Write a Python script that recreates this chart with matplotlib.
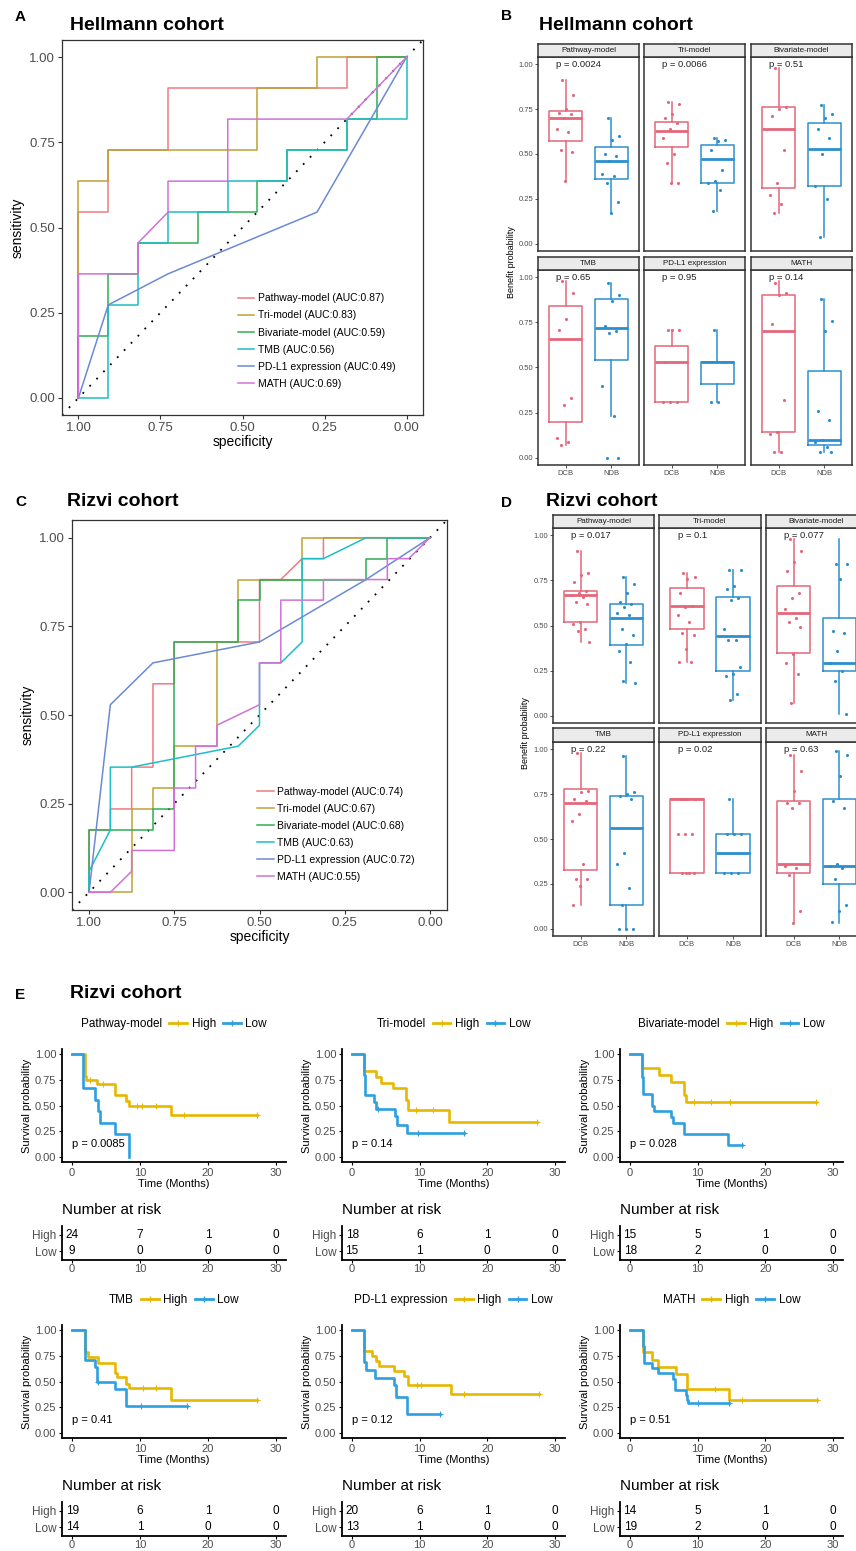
import numpy as np
import matplotlib
matplotlib.use('Agg')
import matplotlib.pyplot as plt
from matplotlib.lines import Line2D

plt.rcParams['font.family'] = ['Liberation Sans', 'DejaVu Sans']

W, H = 856, 1551

# ---------------- data ----------------
modelos = ['Pathway-model', 'Tri-model', 'Bivariate-model', 'TMB', 'PD-L1 expression', 'MATH']

# ROC, Hellmann cohort
hell_auc = [0.87, 0.83, 0.59, 0.56, 0.49, 0.69]
hell_spec = [
    [1, 1, 0.909, 0.909, 0.727, 0.727, 0.182, 0.182, 0],
    [1, 1, 0.909, 0.909, 0.455, 0.455, 0.273, 0.273, 0],
    [1, 1, 0.909, 0.909, 0.818, 0.818, 0.636, 0.636, 0.455, 0.455, 0.364, 0.364, 0.182, 0.182, 0.091, 0.091, 0],
    [1, 0.909, 0.909, 0.818, 0.818, 0.727, 0.727, 0.545, 0.545, 0.364, 0.364, 0.182, 0.182, 0, 0],
    [1, 0.909, 0.727, 0.273, 0],
    [1, 1, 0.818, 0.818, 0.727, 0.727, 0.545, 0.545, 0.182, 0],
]
hell_sens = [
    [0, 0.545, 0.545, 0.727, 0.727, 0.909, 0.909, 1, 1],
    [0, 0.636, 0.636, 0.727, 0.727, 0.909, 0.909, 1, 1],
    [0, 0.182, 0.182, 0.364, 0.364, 0.455, 0.455, 0.545, 0.545, 0.636, 0.636, 0.727, 0.727, 0.818, 0.818, 1, 1],
    [0, 0, 0.273, 0.273, 0.455, 0.455, 0.545, 0.545, 0.636, 0.636, 0.727, 0.727, 0.818, 0.818, 1],
    [0, 0.273, 0.364, 0.545, 1],
    [0, 0.364, 0.364, 0.455, 0.545, 0.636, 0.636, 0.818, 0.818, 1],
]

# ROC, Rizvi cohort
rizvi_auc = [0.74, 0.67, 0.68, 0.63, 0.72, 0.55]
rizvi_spec = [
    [1, 1, 0.9375, 0.9375, 0.875, 0.875, 0.8125, 0.8125, 0.75, 0.75, 0.5, 0.5, 0.4375, 0.375, 0.3125, 0.3125, 0],
    [1, 0.875, 0.875, 0.8125, 0.8125, 0.75, 0.75, 0.625, 0.625, 0.5625, 0.5625, 0.375, 0.375, 0],
    [1, 1, 0.8125, 0.8125, 0.75, 0.75, 0.5625, 0.5625, 0.5, 0.5, 0.1875, 0.1875, 0.125, 0.125, 0],
    [1, 1, 0.9375, 0.9375, 0.875, 0.5625, 0.5, 0.5, 0.4375, 0.375, 0.375, 0.3125, 0.1875, 0],
    [1, 0.9375, 0.8125, 0.5, 0.1875, 0],
    [1, 0.9375, 0.875, 0.875, 0.75, 0.75, 0.6875, 0.6875, 0.625, 0.625, 0.5, 0.5, 0.4375, 0.4375,
     0.3125, 0.3125, 0.125, 0.125, 0.0625, 0],
]
rizvi_sens = [
    [0, 0.176, 0.176, 0.235, 0.235, 0.353, 0.353, 0.588, 0.588, 0.706, 0.706, 0.882, 0.882, 0.941, 0.941, 1, 1],
    [0, 0, 0.235, 0.235, 0.294, 0.294, 0.412, 0.412, 0.706, 0.706, 0.882, 0.882, 1, 1],
    [0, 0.176, 0.176, 0.235, 0.235, 0.706, 0.706, 0.824, 0.824, 0.882, 0.882, 0.941, 0.941, 1, 1],
    [0, 0.059, 0.176, 0.353, 0.353, 0.412, 0.471, 0.647, 0.647, 0.706, 0.941, 0.941, 1, 1],
    [0, 0.529, 0.647, 0.706, 0.882, 1],
    [0, 0, 0.059, 0.118, 0.118, 0.294, 0.294, 0.412, 0.412, 0.471, 0.529, 0.647, 0.647, 0.824,
     0.824, 0.882, 0.882, 0.941, 0.941, 1],
]

# boxplots: [whisker low, q1, median, q3, whisker high]
hell_box_dcb = [[0.35, 0.57, 0.70, 0.74, 0.91], [0.34, 0.54, 0.63, 0.68, 0.79], [0.17, 0.31, 0.64, 0.76, 0.98],
                [0.07, 0.20, 0.66, 0.84, 0.98], [0.31, 0.31, 0.53, 0.62, 0.71], [0.03, 0.14, 0.70, 0.90, 0.98]]
hell_box_ndb = [[0.17, 0.36, 0.46, 0.54, 0.70], [0.18, 0.34, 0.47, 0.55, 0.59], [0.04, 0.32, 0.53, 0.67, 0.77],
                [0.23, 0.54, 0.72, 0.88, 0.97], [0.31, 0.41, 0.53, 0.53, 0.71], [0.03, 0.07, 0.10, 0.48, 0.88]]
hell_pts_dcb = [
    [0.91, 0.83, 0.75, 0.73, 0.72, 0.70, 0.64, 0.62, 0.52, 0.51, 0.35],
    [0.79, 0.78, 0.72, 0.70, 0.67, 0.64, 0.59, 0.50, 0.45, 0.34, 0.34],
    [0.98, 0.76, 0.75, 0.71, 0.52, 0.34, 0.27, 0.22, 0.17],
    [0.98, 0.91, 0.77, 0.71, 0.33, 0.29, 0.11, 0.09, 0.07],
    [0.71, 0.71, 0.71, 0.53, 0.31, 0.31, 0.31],
    [0.97, 0.91, 0.90, 0.74, 0.32, 0.14, 0.13, 0.03, 0.03],
]
hell_pts_ndb = [
    [0.70, 0.60, 0.58, 0.50, 0.49, 0.46, 0.39, 0.38, 0.34, 0.23, 0.17],
    [0.59, 0.58, 0.57, 0.52, 0.41, 0.35, 0.34, 0.30, 0.18],
    [0.77, 0.72, 0.70, 0.64, 0.59, 0.50, 0.32, 0.25, 0.04],
    [0.97, 0.90, 0.87, 0.73, 0.70, 0.69, 0.40, 0.23, 0.0, 0.0],
    [0.71, 0.53, 0.31, 0.31],
    [0.88, 0.76, 0.70, 0.26, 0.21, 0.10, 0.09, 0.06, 0.03, 0.03],
]
hell_p = ['0.0024', '0.0066', '0.51', '0.65', '0.95', '0.14']

rizvi_box_dcb = [[0.41, 0.52, 0.67, 0.69, 0.91], [0.30, 0.48, 0.61, 0.71, 0.79], [0.07, 0.35, 0.57, 0.72, 0.98],
                 [0.13, 0.33, 0.70, 0.78, 0.98], [0.31, 0.31, 0.72, 0.72, 0.72], [0.03, 0.31, 0.36, 0.71, 0.97]]
rizvi_box_ndb = [[0.18, 0.39, 0.54, 0.62, 0.77], [0.09, 0.25, 0.44, 0.66, 0.81], [0.01, 0.25, 0.29, 0.54, 0.98],
                 [0.0, 0.13, 0.56, 0.74, 0.96], [0.31, 0.31, 0.42, 0.53, 0.72], [0.03, 0.25, 0.35, 0.72, 0.99]]
rizvi_pts_dcb = [
    [0.91, 0.79, 0.78, 0.74, 0.69, 0.68, 0.67, 0.66, 0.63, 0.62, 0.52, 0.51, 0.48, 0.47, 0.41],
    [0.79, 0.77, 0.76, 0.68, 0.61, 0.60, 0.56, 0.52, 0.46, 0.45, 0.37, 0.30, 0.30],
    [0.98, 0.91, 0.85, 0.80, 0.68, 0.65, 0.59, 0.54, 0.52, 0.49, 0.34, 0.29, 0.23, 0.07],
    [0.98, 0.77, 0.76, 0.72, 0.71, 0.64, 0.60, 0.36, 0.28, 0.28, 0.24, 0.13],
    [0.72, 0.72, 0.72, 0.72, 0.53, 0.53, 0.53, 0.31, 0.31, 0.31, 0.31],
    [0.97, 0.88, 0.77, 0.70, 0.70, 0.67, 0.35, 0.34, 0.30, 0.10, 0.03],
]
rizvi_pts_ndb = [
    [0.77, 0.73, 0.68, 0.63, 0.62, 0.60, 0.57, 0.56, 0.48, 0.45, 0.40, 0.36, 0.30, 0.19, 0.18],
    [0.81, 0.81, 0.72, 0.70, 0.65, 0.64, 0.48, 0.42, 0.42, 0.27, 0.23, 0.22, 0.12, 0.09],
    [0.84, 0.84, 0.76, 0.47, 0.46, 0.36, 0.29, 0.25, 0.19, 0.01],
    [0.96, 0.76, 0.75, 0.74, 0.72, 0.42, 0.36, 0.23, 0.13, 0.0, 0.0, 0.0],
    [0.72, 0.53, 0.53, 0.53, 0.31, 0.31, 0.31],
    [0.99, 0.97, 0.85, 0.71, 0.67, 0.36, 0.35, 0.34, 0.28, 0.13, 0.10, 0.04],
]
rizvi_p = ['0.017', '0.1', '0.077', '0.22', '0.02', '0.63']

# Kaplan-Meier, Rizvi cohort
km_high_t = [[0, 1.9, 2.1, 3.6, 6.3, 8.0, 8.3, 14.5],
             [0, 1.7, 3.6, 4.2, 6.1, 7.9, 8.2, 14.3],
             [0, 1.7, 4.2, 6.1, 8.0, 8.3],
             [0, 1.9, 2.3, 3.8, 6.3, 6.6, 8.0, 8.3, 14.5],
             [0, 1.8, 3.0, 3.5, 4.0, 6.2, 7.7, 8.3, 14.6],
             [0, 1.9, 3.3, 4.1, 6.8, 8.4, 14.7]]
km_high_s = [[1, 0.79, 0.75, 0.71, 0.60, 0.54, 0.50, 0.41],
             [1, 0.833, 0.778, 0.722, 0.667, 0.556, 0.458, 0.344],
             [1, 0.867, 0.80, 0.733, 0.60, 0.533],
             [1, 0.789, 0.737, 0.684, 0.579, 0.547, 0.474, 0.432, 0.324],
             [1, 0.80, 0.75, 0.70, 0.65, 0.60, 0.55, 0.47, 0.38],
             [1, 0.786, 0.714, 0.643, 0.571, 0.429, 0.321]]
km_high_end = [27.2, 27.3, 27.5, 27.2, 27.6, 27.6]
km_high_cens = [[2.6, 4.5, 9.6, 10.3, 12.3, 16.5, 27.2], [9.5, 12.0, 27.3], [9.5, 12.0, 14.8, 27.5],
                [10.5, 12.3, 27.2], [9.6, 10.2, 16.5, 27.6], [12.5, 16.5, 27.6]]
km_low_t = [[0, 1.6, 3.3, 3.8, 4.1, 6.3, 8.3],
            [0, 1.7, 1.9, 3.2, 3.5, 6.3, 6.6, 8.1],
            [0, 1.7, 1.9, 3.2, 3.5, 6.1, 6.4, 8.0, 14.5],
            [0, 1.9, 3.3, 3.6, 6.3, 8.0],
            [0, 1.8, 2.0, 3.4, 6.2, 6.5, 8.1],
            [0, 1.9, 2.1, 3.3, 4.1, 6.3, 6.6, 8.2, 8.4, 8.6]]
km_low_s = [[1, 0.667, 0.556, 0.444, 0.333, 0.222, 0.0],
            [1, 0.80, 0.60, 0.533, 0.467, 0.40, 0.311, 0.233],
            [1, 0.778, 0.611, 0.50, 0.444, 0.389, 0.333, 0.222, 0.111],
            [1, 0.714, 0.643, 0.50, 0.429, 0.257],
            [1, 0.692, 0.615, 0.538, 0.462, 0.346, 0.185],
            [1, 0.842, 0.684, 0.632, 0.579, 0.526, 0.421, 0.368, 0.316, 0.289]]
km_low_end = [8.3, 16.6, 16.6, 16.9, 13.0, 14.7]
km_low_cens = [[], [3.8, 9.8, 16.6], [16.6], [3.8, 10.2, 16.9], [13.0], [10.0, 14.7]]
km_p = ['0.0085', '0.14', '0.028', '0.41', '0.12', '0.51']
risk_high = [[24, 7, 1, 0], [18, 6, 1, 0], [15, 5, 1, 0], [19, 6, 1, 0], [20, 6, 1, 0], [14, 5, 1, 0]]
risk_low = [[9, 0, 0, 0], [15, 1, 0, 0], [18, 2, 0, 0], [14, 1, 0, 0], [13, 1, 0, 0], [19, 2, 0, 0]]
risk_times = [0, 10, 20, 30]

# ---------------- style ----------------
roc_colors = ['#EE7B80', '#BFA233', '#2FAE55', '#1DBEC5', '#6A8AD6', '#D171D6']
dcb_color = '#E4677B'
ndb_color = '#2B8FCF'
high_color = '#E7B800'
low_color = '#2E9FDF'
grey_txt = '#4D4D4D'

fig = plt.figure(figsize=(W / 100, H / 100), dpi=100)


def px_axes(l, t, r, b):
    return fig.add_axes([l / W, 1 - b / H, (r - l) / W, (b - t) / H])


def px_text(x, y, s, **kw):
    fig.text(x / W, 1 - y / H, s, **kw)


def jitter(n):
    return ((np.arange(n) * 0.618034 + 0.3) % 1.0 - 0.5) * 0.4


def draw_roc(box, specs, senss, aucs, leg_anchor):
    ax = px_axes(*box)
    ax.plot([1.05, -0.05], [-0.05, 1.05], color='black', ls=(0, (1, 4.5)), lw=1.3)
    for i, nombre in enumerate(modelos):
        ax.plot(specs[i], senss[i], color=roc_colors[i], lw=1.1,
                label='%s (AUC:%.2f)' % (nombre, aucs[i]))
    ax.set_xlim(1.05, -0.05)
    ax.set_ylim(-0.05, 1.05)
    ticks = [1.0, 0.75, 0.5, 0.25, 0.0]
    ax.set_xticks(ticks)
    ax.set_xticklabels(['%.2f' % t for t in ticks])
    ax.set_yticks(ticks)
    ax.set_yticklabels(['%.2f' % t for t in ticks])
    ax.tick_params(labelsize=9.5, labelcolor=grey_txt, length=3, pad=2, color='#333333')
    for s in ax.spines.values():
        s.set_color('#333333')
        s.set_linewidth(0.9)
    ax.set_xlabel('specificity', fontsize=10, labelpad=1)
    ax.set_ylabel('sensitivity', fontsize=10, labelpad=3)
    ax.legend(loc='lower left', bbox_to_anchor=leg_anchor, frameon=False, fontsize=7.5,
              handlelength=1.6, handletextpad=0.3, labelspacing=0.68, borderpad=0, borderaxespad=0)


def draw_facets(cols, strips, panels, box_dcb, box_ndb, pts_dcb, pts_ndb, pvals):
    for k, nombre in enumerate(modelos):
        r, c = divmod(k, 3)
        x0, x1 = cols[c]
        ax = px_axes(x0, panels[r][0], x1, panels[r][1])
        grupos = ((1, box_dcb[k], pts_dcb[k], dcb_color), (2, box_ndb[k], pts_ndb[k], ndb_color))
        for pos, bx, pts, col in grupos:
            st = dict(whislo=bx[0], q1=bx[1], med=bx[2], q3=bx[3], whishi=bx[4], fliers=[])
            ax.bxp([st], positions=[pos], widths=0.72, showcaps=False, showfliers=False,
                   boxprops=dict(color=col, lw=1.1), whiskerprops=dict(color=col, lw=1.1),
                   medianprops=dict(color=col, lw=2.0))
            ax.scatter(pos + jitter(len(pts)), pts, s=5, color=col, lw=0, zorder=3)
        ax.text(0.8, 1.0, 'p = ' + pvals[k], fontsize=6.8, va='center', ha='left', color='#222222')
        ax.set_xlim(0.4, 2.6)
        ax.set_ylim(-0.04, 1.04)
        ax.set_xticks([1, 2])
        ax.set_yticks([0, 0.25, 0.5, 0.75, 1.0])
        if r == 1:
            ax.set_xticklabels(['DCB', 'NDB'])
        else:
            ax.set_xticklabels([])
        if c == 0:
            ax.set_yticklabels(['0.00', '0.25', '0.50', '0.75', '1.00'])
        else:
            ax.set_yticklabels([])
        ax.tick_params(labelsize=5.5, labelcolor=grey_txt, length=2, pad=1.5, color='#333333', width=0.6)
        if c > 0:
            ax.tick_params(axis='y', length=0)
        if r == 0:
            ax.tick_params(axis='x', length=0)
        for s in ax.spines.values():
            s.set_color('#333333')
            s.set_linewidth(1.1)
        sax = px_axes(x0, strips[r][0], x1, strips[r][1])
        sax.set_facecolor('#EBEBEB')
        sax.set_xticks([])
        sax.set_yticks([])
        for s in sax.spines.values():
            s.set_color('#333333')
            s.set_linewidth(1.1)
        sax.text(0.5, 0.5, nombre, fontsize=5.8, ha='center', va='center', color='#1A1A1A',
                 transform=sax.transAxes)


def step_value(ts, ss, t):
    return ss[np.searchsorted(ts, t, side='right') - 1]


def draw_km(k, l, r, top, leg_y, risk_title_y, tab_top, tab_bot):
    bot = top + 113
    ax = px_axes(l, top, r, bot)
    for ts, ss, end, cens, col in ((km_high_t[k], km_high_s[k], km_high_end[k], km_high_cens[k], high_color),
                                   (km_low_t[k], km_low_s[k], km_low_end[k], km_low_cens[k], low_color)):
        ax.step(ts + [end], ss + [ss[-1]], where='post', color=col, lw=1.9)
        if cens:
            ax.plot(cens, [step_value(ts, ss, c) for c in cens], ls='none', marker='+',
                    ms=4, mew=0.8, color=col)
    ax.text(0, 0.13, 'p = ' + km_p[k], fontsize=8, ha='left', va='center')
    ax.set_xlim(-1.5, 31.5)
    ax.set_ylim(-0.05, 1.05)
    ax.set_xticks([0, 10, 20, 30])
    ax.set_yticks([0, 0.25, 0.5, 0.75, 1.0])
    ax.set_yticklabels(['0.00', '0.25', '0.50', '0.75', '1.00'])
    ax.tick_params(labelsize=8, labelcolor=grey_txt, length=2.5, pad=1.5, width=0.8)
    ax.spines['top'].set_visible(False)
    ax.spines['right'].set_visible(False)
    ax.spines['left'].set_linewidth(1.3)
    ax.spines['bottom'].set_linewidth(1.3)
    ax.set_xlabel('Time (Months)', fontsize=8, labelpad=1)
    ax.set_ylabel('Survival probability', fontsize=8, labelpad=2)

    fs = 8.5
    handles = [Line2D([], [], lw=0, alpha=0, label=modelos[k]),
               Line2D([0], [0], color=high_color, lw=2, marker='+', ms=5, mew=1, label='High'),
               Line2D([0], [0], color=low_color, lw=2, marker='+', ms=5, mew=1, label='Low')]
    shift = (1.5 + 0.4) * fs * 100 / 72 / 2 / (r - l)
    ax.legend(handles=handles, loc='center', bbox_to_anchor=(0.5 - shift, 1 + (top - leg_y) / 113.0),
              ncol=3, frameon=False, fontsize=fs, handlelength=1.5, handletextpad=0.4,
              columnspacing=0.6, borderpad=0, borderaxespad=0)

    px_text(l, risk_title_y, 'Number at risk', fontsize=11, ha='left', va='center')
    tab = px_axes(l, tab_top, r, tab_bot)
    for j, t in enumerate(risk_times):
        tab.text(t, 1, str(risk_high[k][j]), fontsize=8.5, ha='center', va='center')
        tab.text(t, 0, str(risk_low[k][j]), fontsize=8.5, ha='center', va='center')
    tab.set_xlim(-1.5, 31.5)
    tab.set_ylim(-0.55, 1.55)
    tab.set_xticks([0, 10, 20, 30])
    tab.set_yticks([1, 0])
    tab.set_yticklabels(['High', 'Low'])
    tab.tick_params(labelsize=8.5, labelcolor=grey_txt, length=2.5, pad=1.5, width=0.8)
    tab.tick_params(axis='x', labelsize=8, length=2, pad=1)
    tab.spines['top'].set_visible(False)
    tab.spines['right'].set_visible(False)
    tab.spines['left'].set_linewidth(1.3)
    tab.spines['bottom'].set_linewidth(1.3)


# ---------------- panels A / C: ROC ----------------
draw_roc((62, 40, 423, 415), hell_spec, hell_sens, hell_auc, (0.487, 0.07))
draw_roc((72, 520, 447, 910), rizvi_spec, rizvi_sens, rizvi_auc, (0.493, 0.072))

# ---------------- panels B / D: boxplots ----------------
draw_facets([(538, 639), (644, 745), (751, 852)], [(44, 57), (257, 270)], [(57, 251), (270, 465)],
            hell_box_dcb, hell_box_ndb, hell_pts_dcb, hell_pts_ndb, hell_p)
draw_facets([(553, 654), (659, 761), (766, 867)], [(515, 528), (728, 742)], [(528, 723), (742, 936)],
            rizvi_box_dcb, rizvi_box_ndb, rizvi_pts_dcb, rizvi_pts_ndb, rizvi_p)
px_text(511, 262, 'Benefit probability', fontsize=6.5, rotation=90, ha='center', va='center')
px_text(526, 733, 'Benefit probability', fontsize=6.5, rotation=90, ha='center', va='center')

# ---------------- panel E: KM ----------------
km_cols = [(62, 286), (342, 565), (620, 843)]
for k in range(6):
    fila, c = divmod(k, 3)
    dy = 278 * fila - 2 * fila
    draw_km(k, km_cols[c][0], km_cols[c][1], 1049 + dy, 1024 + dy, 1210 + dy, 1226 + dy, 1260 + dy)

# labels and titles
px_text(15, 17, 'A', fontsize=11, fontweight='bold', va='center')
px_text(70, 26, 'Hellmann cohort', fontsize=14, fontweight='bold', va='center')
px_text(501, 16, 'B', fontsize=11, fontweight='bold', va='center')
px_text(539, 26, 'Hellmann cohort', fontsize=14, fontweight='bold', va='center')
px_text(15, 502, 'C', fontsize=11, fontweight='bold', va='center')
px_text(67, 501, 'Rizvi cohort', fontsize=14, fontweight='bold', va='center')
px_text(501, 503, 'D', fontsize=11, fontweight='bold', va='center')
px_text(546, 501, 'Rizvi cohort', fontsize=14, fontweight='bold', va='center')
px_text(15, 995, 'E', fontsize=11, fontweight='bold', va='center')
px_text(70, 994, 'Rizvi cohort', fontsize=14, fontweight='bold', va='center')

fig.savefig('out.png', dpi=100)
